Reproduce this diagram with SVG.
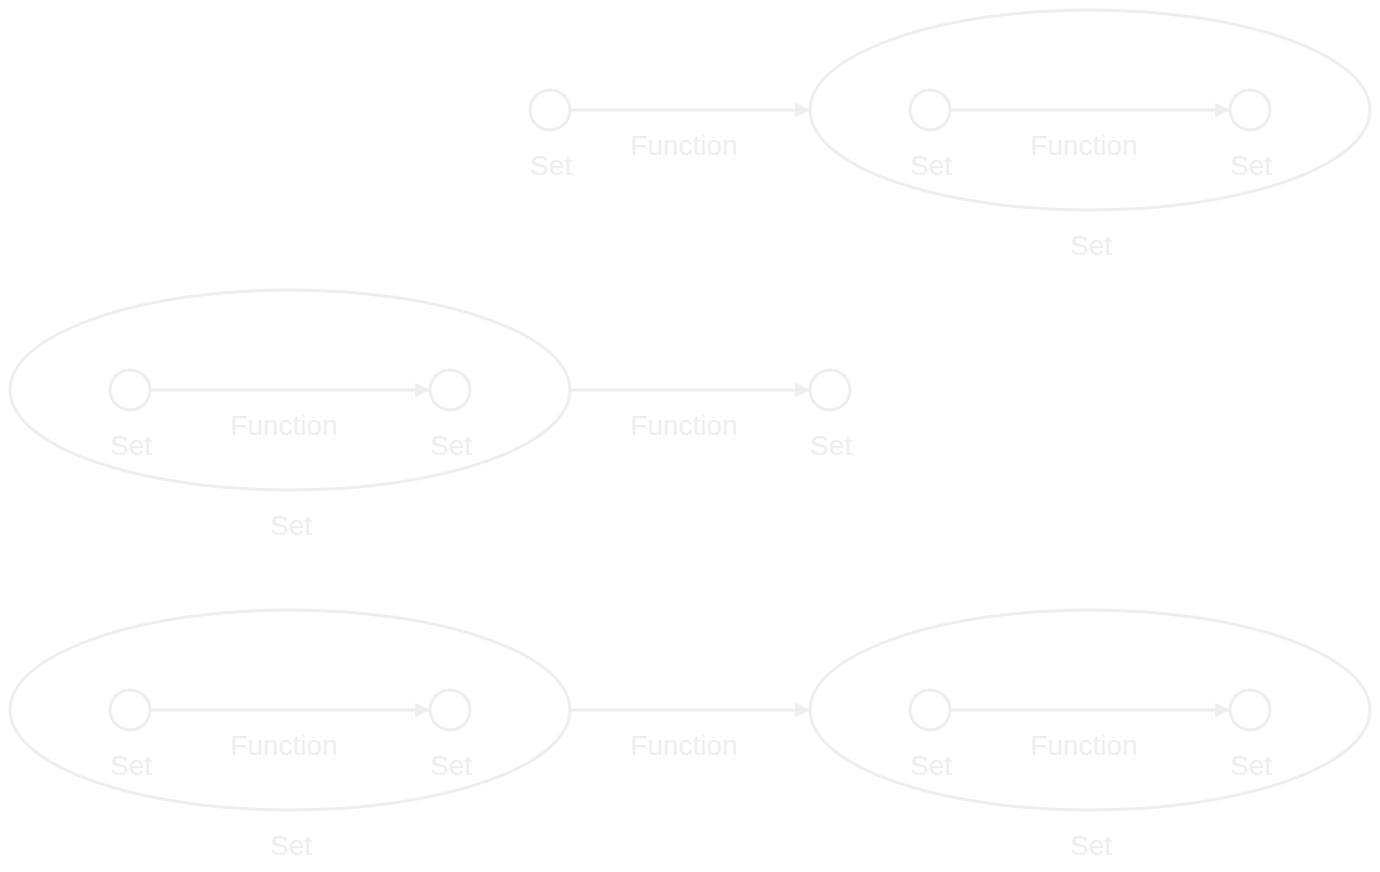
<svg xmlns="http://www.w3.org/2000/svg" width="1380" height="872" viewBox="0 0 1380 872">
<style>
.s{fill:none;stroke:#eeeeee;stroke-width:3}
.e{stroke:#eeeeee;stroke-width:3;fill:none}
text{font-family:"Liberation Sans",Arial,sans-serif;font-size:28px;fill:#eeeeee;text-anchor:middle}
</style>
<defs>
<marker id="a" viewBox="0 0 10 10" refX="10" refY="5" markerWidth="5" markerHeight="5" orient="auto" markerUnits="strokeWidth">
<path d="M0,0 L10,5 L0,10 z" fill="#eeeeee"/>
</marker>
</defs>
<rect width="1380" height="872" fill="#ffffff"/>
<g id="n1"><circle class="s" cx="550" cy="110" r="20"/><text x="551" y="175">Set</text></g>
<g id="n2"><ellipse class="s" cx="1090" cy="110" rx="280" ry="100"/><text x="1091" y="255">Set</text></g>
<g id="n3"><circle class="s" cx="930" cy="110" r="20"/><text x="931" y="175">Set</text></g>
<g id="n4"><circle class="s" cx="1250" cy="110" r="20"/><text x="1251" y="175">Set</text></g>
<g id="n5"><ellipse class="s" cx="290" cy="390" rx="280" ry="100"/><text x="291" y="535">Set</text></g>
<g id="n6"><circle class="s" cx="130" cy="390" r="20"/><text x="131" y="455">Set</text></g>
<g id="n7"><circle class="s" cx="450" cy="390" r="20"/><text x="451" y="455">Set</text></g>
<g id="n8"><circle class="s" cx="830" cy="390" r="20"/><text x="831" y="455">Set</text></g>
<g id="n9"><ellipse class="s" cx="290" cy="710" rx="280" ry="100"/><text x="291" y="855">Set</text></g>
<g id="n10"><circle class="s" cx="130" cy="710" r="20"/><text x="131" y="775">Set</text></g>
<g id="n11"><circle class="s" cx="450" cy="710" r="20"/><text x="451" y="775">Set</text></g>
<g id="n12"><ellipse class="s" cx="1090" cy="710" rx="280" ry="100"/><text x="1091" y="855">Set</text></g>
<g id="n13"><circle class="s" cx="930" cy="710" r="20"/><text x="931" y="775">Set</text></g>
<g id="n14"><circle class="s" cx="1250" cy="710" r="20"/><text x="1251" y="775">Set</text></g>
<g id="edges">
<line class="e" x1="570" y1="110" x2="810" y2="110" marker-end="url(#a)"/><text x="684" y="155">Function</text>
<line class="e" x1="950" y1="110" x2="1230" y2="110" marker-end="url(#a)"/><text x="1084" y="155">Function</text>
<line class="e" x1="150" y1="390" x2="430" y2="390" marker-end="url(#a)"/><text x="284" y="435">Function</text>
<line class="e" x1="570" y1="390" x2="810" y2="390" marker-end="url(#a)"/><text x="684" y="435">Function</text>
<line class="e" x1="150" y1="710" x2="430" y2="710" marker-end="url(#a)"/><text x="284" y="755">Function</text>
<line class="e" x1="570" y1="710" x2="810" y2="710" marker-end="url(#a)"/><text x="684" y="755">Function</text>
<line class="e" x1="950" y1="710" x2="1230" y2="710" marker-end="url(#a)"/><text x="1084" y="755">Function</text>
</g>
</svg>
